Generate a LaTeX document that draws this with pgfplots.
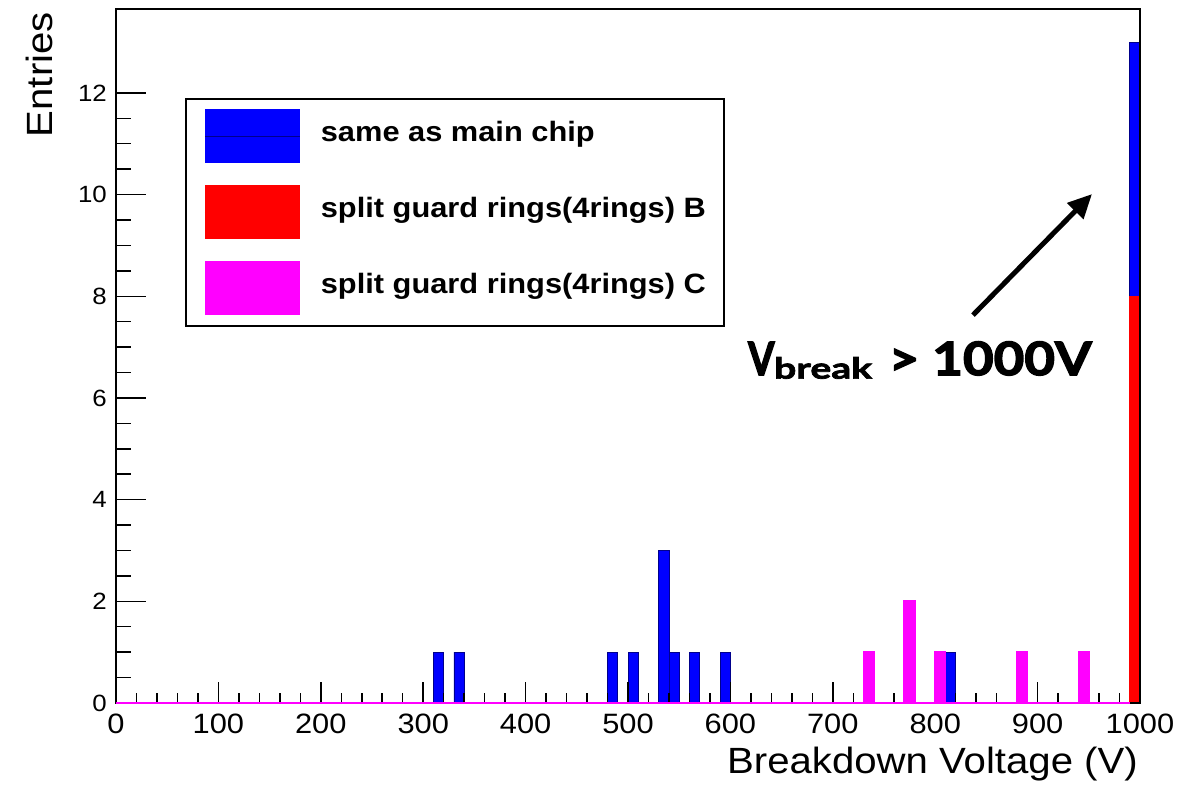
\documentclass[border=0pt]{standalone}
\usepackage{fontspec}
\setmainfont[FakeStretch=1.1]{Liberation Sans}
\newfontfamily\annfont[FakeStretch=1.15,BoldFeatures={FakeBold=3}]{Lato}
\newfontfamily\vfont[FakeStretch=0.82,BoldFeatures={FakeBold=3}]{Lato}
\newfontfamily\subfont[FakeStretch=1.35,BoldFeatures={FakeBold=2.5}]{Lato}
\usepackage{pgfplots}
\pgfplotsset{compat=1.18}
\usetikzlibrary{arrows.meta}
\definecolor{hblue}{rgb}{0,0,1}
\definecolor{hred}{rgb}{1,0,0}
\definecolor{hmag}{rgb}{1,0,1}
\definecolor{hnavy}{rgb}{0,0,0.55}
\pgfplotsset{histleg/.style={legend image code/.code={
  \fill[##1,draw=none] (0pt,-21.5pt) rectangle (95pt,32.5pt);
  \draw[##1,fill=none] (0pt,5.5pt) -- (95pt,5.5pt);
}}}
\begin{document}
\begin{tikzpicture}
\begin{axis}[
  at={(116pt,82pt)}, anchor=south west,
  scale only axis, width=1024pt, height=694pt,
  xmin=0, xmax=1000, ymin=0, ymax=13.65,
  axis on top, set layers, clip=false,
  xtick={0,100,...,1000}, minor x tick num=4,
  ytick={0,2,...,12}, minor y tick num=3,
  tick align=inside, xtick pos=bottom, ytick pos=left,
  xtick style={/pgfplots/major tick length=21pt,/pgfplots/minor tick length=10pt},
  ytick style={/pgfplots/major tick length=30pt,/pgfplots/minor tick length=15pt},
  tick style={black, line width=1.5pt},
  axis line style={black, line width=2pt},
  /pgf/number format/assume math mode=true,
  /pgf/number format/1000 sep={},
  xticklabel style={font=\fontsize{28}{30}\selectfont, inner sep=0pt, anchor=north, yshift=-11pt},
  yticklabel style={font=\fontsize{23.5}{26}\selectfont, inner sep=0pt, anchor=east, xshift=-9pt},
  xlabel={Breakdown Voltage (V)},
  ylabel={Entries},
  xlabel style={font=\fontsize{36.5}{40}\selectfont, at={(axis description cs:1,0)}, anchor=north east, inner sep=0pt, yshift=-43.5pt, xshift=-2pt},
  ylabel style={font=\fontsize{36.5}{40}\selectfont, at={(axis description cs:-0.0615,0.9957)}, anchor=south east, inner sep=0pt},
  legend style={at={(axis description cs:0.0674,0.8718)}, anchor=north west,
    draw=black, line width=1.7pt, inner xsep=18pt, inner ysep=10.5pt,
    row sep=22pt, column sep=20pt,
    cells={anchor=base west},
    nodes={inner sep=0pt},
    font=\fontsize{28}{30}\selectfont\bfseries},
]
\addplot[ybar interval, fill=hblue, draw=hnavy, line width=0.8pt, histleg] coordinates {
(0,0) (310,1) (320,0) (330,1) (340,0) (480,1) (490,0) (500,1) (510,0)
(530,3) (540,1) (550,0) (560,1) (570,0) (590,1) (600,0) (810,1) (820,0)
(990,13) (1000,0)};
\addlegendentry{same as main chip}
\addplot[ybar interval, fill=hred, draw=hred, line width=0.8pt, histleg] coordinates {
(990,8) (1000,0)};
\addlegendentry{split guard rings(4rings) B}
\addplot[ybar interval, fill=hmag, draw=hmag, line width=2pt, histleg, on layer=axis foreground] coordinates {
(0,0) (730,1) (740,0) (770,2) (780,0) (800,1) (810,0) (880,1) (890,0)
(940,1) (950,0) (990,0)};
\addlegendentry{split guard rings(4rings) C}
\node[anchor=base west, inner sep=0pt, font=\fontsize{46}{50}\selectfont\vfont\bfseries] at (617.2,6.45) {V};
\node[anchor=base west, inner sep=0pt, font=\fontsize{29}{32}\selectfont\subfont\bfseries] at (642.5,6.38) {break};
\node[anchor=base east, inner sep=0pt, font=\fontsize{46}{50}\selectfont\annfont\bfseries] at (953.1,6.45) {> 1000V};
\draw[line width=5pt, -{Triangle[length=24pt,width=22pt]}] (836.9,7.63) -- (953.1,10.01);
\end{axis}
\pgfresetboundingbox
\useasboundingbox (0pt,0pt) rectangle (1201pt,785pt);
\end{tikzpicture}
\end{document}
